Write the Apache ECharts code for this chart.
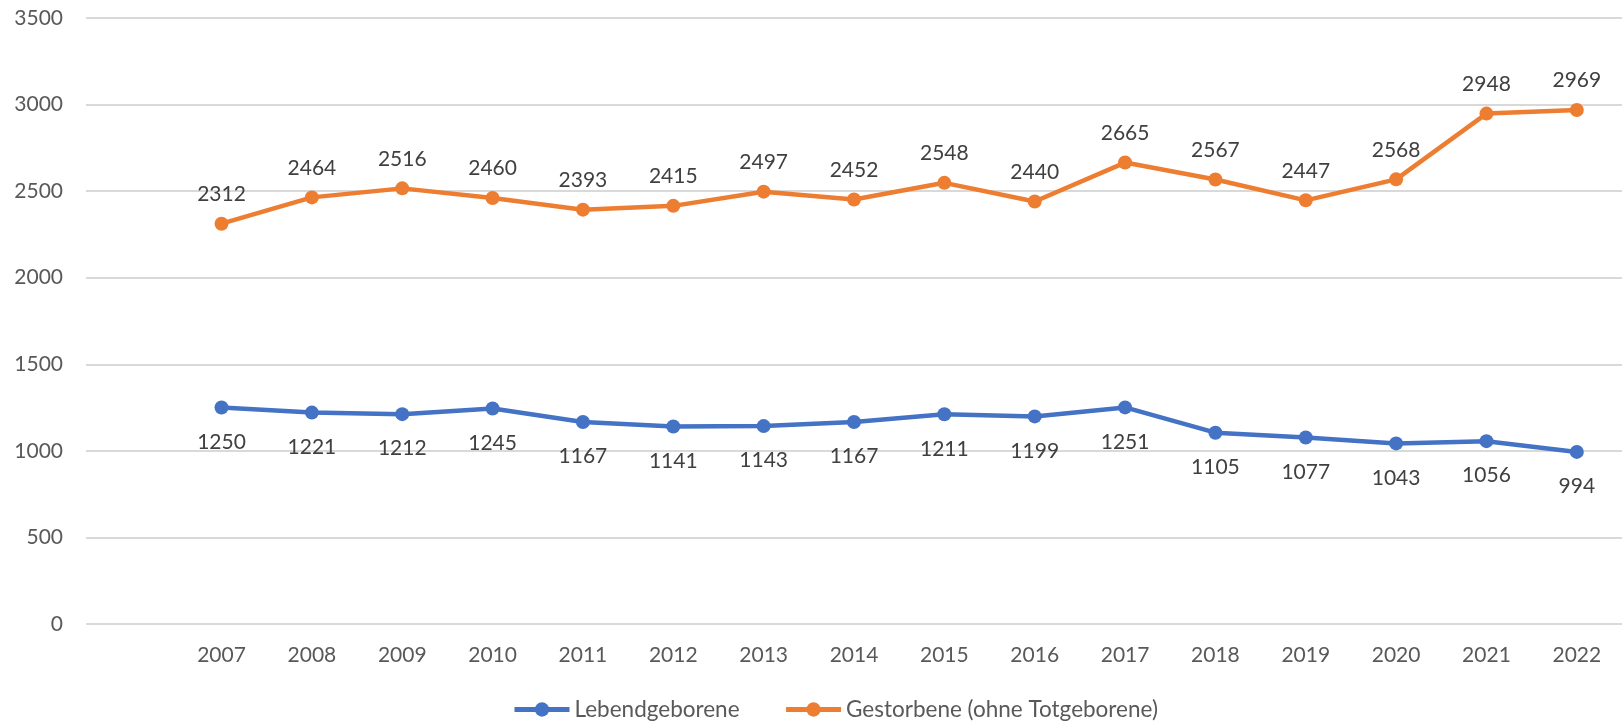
<!DOCTYPE html>
<html>
<head>
<meta charset="utf-8">
<script src="https://cdn.jsdelivr.net/npm/echarts@6/dist/echarts.min.js"></script>
<style>
  html, body { margin: 0; padding: 0; background: #ffffff; }
  #chart { width: 1622px; height: 722px; }
</style>
</head>
<body>
<div id="chart"></div>
<script>
// Leading empty slot keeps the first year away from the value axis
const years = ['', '2007', '2008', '2009', '2010', '2011', '2012', '2013', '2014',
  '2015', '2016', '2017', '2018', '2019', '2020', '2021', '2022'];
const lebendgeborene = [null, 1250, 1221, 1212, 1245, 1167, 1141, 1143, 1167,
  1211, 1199, 1251, 1105, 1077, 1043, 1056, 994];
const gestorbene = [null, 2312, 2464, 2516, 2460, 2393, 2415, 2497, 2452,
  2548, 2440, 2665, 2567, 2447, 2568, 2948, 2969];
const yTicks = { min: 0, max: 3500, interval: 500 };

const FONT = 'Lato';
const BLUE = '#4472C4';
const ORANGE = '#ED7D31';
const chart = echarts.init(document.getElementById('chart'), null, { renderer: 'canvas' });

chart.setOption({
  animation: false,
  backgroundColor: '#ffffff',
  textStyle: { fontFamily: FONT },
  grid: { left: 86, right: -18, top: 18, bottom: 98, containLabel: false },
  legend: {
    bottom: -4,
    left: 507,
    itemWidth: 55,
    itemHeight: 18,
    itemGap: 44,
    textStyle: { color: '#595959', fontSize: 22.5, fontFamily: FONT },
    lineStyle: { width: 5 },
    data: [
      { name: 'Lebendgeborene', lineStyle: { width: 5, color: BLUE } },
      { name: 'Gestorbene (ohne Totgeborene)', lineStyle: { width: 5, color: ORANGE } }
    ]
  },
  xAxis: {
    type: 'category',
    data: years,
    boundaryGap: true,
    axisLine: { show: false },
    axisTick: { show: false },
    axisLabel: { color: '#595959', fontSize: 21, fontFamily: FONT, margin: 21 }
  },
  yAxis: {
    type: 'value',
    min: yTicks.min,
    max: yTicks.max,
    interval: yTicks.interval,
    axisLine: { show: false },
    axisTick: { show: false },
    axisLabel: {
      color: '#595959', fontSize: 21, fontFamily: FONT, margin: 23,
      formatter: (v) => String(v)
    },
    splitLine: { lineStyle: { color: '#d9d9d9', width: 2 } }
  },
  series: [
    {
      name: 'Lebendgeborene',
      type: 'line',
      data: lebendgeborene,
      connectNulls: false,
      symbol: 'circle',
      symbolSize: 14,
      color: BLUE,
      lineStyle: { width: 4.5, color: BLUE },
      itemStyle: { color: BLUE },
      label: {
        show: true,
        position: 'bottom',
        distance: 17,
        color: '#404040',
        fontSize: 21,
        fontFamily: FONT
      }
    },
    {
      name: 'Gestorbene (ohne Totgeborene)',
      type: 'line',
      data: gestorbene,
      connectNulls: false,
      symbol: 'circle',
      symbolSize: 14,
      color: ORANGE,
      lineStyle: { width: 4.5, color: ORANGE },
      itemStyle: { color: ORANGE },
      label: {
        show: true,
        position: 'top',
        distance: 12,
        color: '#404040',
        fontSize: 21,
        fontFamily: FONT
      }
    }
  ]
});
</script>
</body>
</html>
